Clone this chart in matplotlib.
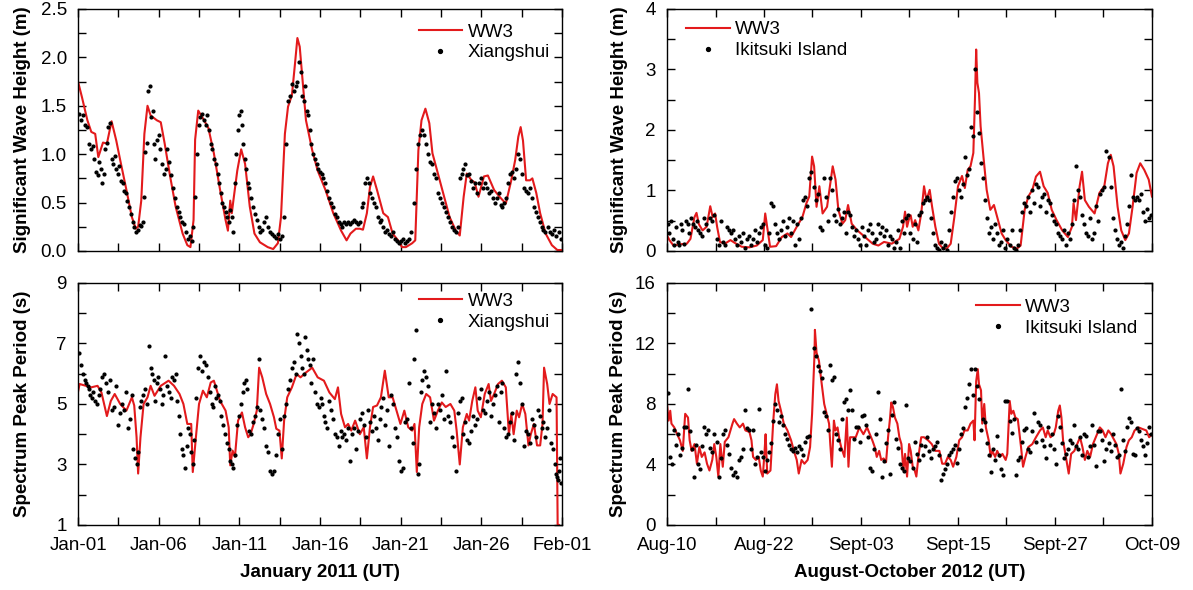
import matplotlib.pyplot as plt
from matplotlib.ticker import MultipleLocator, FormatStrFormatter

plt.rcParams['font.family'] = ['Liberation Sans', 'DejaVu Sans']

jan_labels = ['Jan-01', 'Jan-06', 'Jan-11', 'Jan-16', 'Jan-21', 'Jan-26', 'Feb-01']
aug_labels = ['Aug-10', 'Aug-22', 'Sept-03', 'Sept-15', 'Sept-27', 'Oct-09']

# WW3 model output, (day since start, value)
hs_jan_ww3 = [
    (0, 1.75), (0.25, 1.59), (0.6, 1.35), (0.85, 1.23), (1.1, 1.21), (1.3, 0.97), (1.6, 1.12),
    (1.85, 1.11), (2.15, 1.34), (2.45, 1.14), (2.7, 0.94), (3.1, 0.63), (3.45, 0.35), (3.7, 0.23),
    (3.85, 0.25), (4.05, 0.52), (4.25, 1.21), (4.45, 1.50), (4.65, 1.40), (5.05, 1.35), (5.3, 1.33),
    (5.55, 1.11), (5.9, 0.77), (6.25, 0.46), (6.7, 0.18), (7.0, 0.06), (7.2, 0.04), (7.4, 0.32),
    (7.5, 1.15), (7.7, 1.45), (8.0, 1.37), (8.35, 1.27), (8.7, 1.01), (9.1, 0.63), (9.45, 0.32),
    (9.6, 0.21), (9.75, 0.52), (9.85, 0.39), (9.95, 0.52), (10.2, 0.83), (10.45, 1.05), (10.7, 0.90),
    (11.0, 0.46), (11.3, 0.18), (11.65, 0.09), (12.15, 0.04), (12.5, 0.02), (12.8, 0.08), (13.0, 0.35),
    (13.25, 1.21), (13.45, 1.49), (13.7, 1.61), (13.9, 1.94), (14.05, 2.20), (14.2, 2.11), (14.4, 1.73),
    (14.6, 1.35), (15.0, 1.04), (15.35, 0.83), (15.85, 0.63), (16.35, 0.39), (16.85, 0.21), (17.2, 0.11),
    (17.45, 0.18), (17.8, 0.23), (18.05, 0.23), (18.25, 0.22), (18.5, 0.39), (18.7, 0.66), (18.9, 0.77),
    (19.15, 0.63), (19.55, 0.39), (19.85, 0.35), (20.15, 0.18), (20.5, 0.11), (20.75, 0.04), (21.0, 0.04),
    (21.4, 0.08), (21.6, 0.11), (21.8, 1.04), (22.0, 1.35), (22.25, 1.47), (22.5, 1.32), (22.7, 1.01),
    (23.1, 0.77), (23.45, 0.56), (23.8, 0.35), (24.2, 0.21), (24.45, 0.16), (24.7, 0.56), (24.9, 0.80),
    (25.2, 0.73), (25.4, 0.71), (25.65, 0.56), (26.0, 0.77), (26.25, 0.78), (26.65, 0.63), (27.0, 0.56),
    (27.4, 0.49), (27.75, 0.73), (28.0, 0.94), (28.2, 1.18), (28.35, 1.28), (28.5, 1.14), (28.7, 0.73),
    (28.95, 0.73), (29.1, 0.75), (29.35, 0.60), (29.6, 0.39), (29.95, 0.18), (30.35, 0.06), (30.7, 0.01),
    (31.0, 0.01),
]

tp_jan_ww3 = [
    (0, 5.4), (0.1, 5.66), (0.5, 5.6), (0.85, 5.55), (1.25, 5.6), (1.5, 5.38), (1.85, 4.6), (2.1, 5.1),
    (2.35, 5.33), (2.7, 5.0), (3.1, 4.78), (3.45, 5.22), (3.6, 4.95), (3.75, 3.9), (3.85, 2.7), (4.0, 3.9),
    (4.2, 5.0), (4.45, 5.22), (4.65, 5.6), (4.9, 5.27), (5.3, 5.6), (5.8, 5.77), (6.15, 5.6), (6.5, 5.33),
    (6.75, 5.0), (7.0, 4.34), (7.25, 4.34), (7.35, 2.75), (7.55, 3.9), (7.75, 5.0), (8.0, 5.44),
    (8.25, 5.22), (8.5, 5.71), (8.7, 5.77), (9.1, 5.1), (9.45, 4.78), (9.65, 4.23), (9.75, 2.97),
    (9.9, 3.46), (10.05, 3.25), (10.25, 4.45), (10.5, 4.72), (10.7, 4.23), (10.9, 3.9), (11.05, 4.0),
    (11.25, 4.34), (11.45, 4.78), (11.6, 6.2), (11.8, 5.88), (12.05, 5.33), (12.3, 5.0), (12.55, 4.56),
    (12.7, 4.18), (12.9, 4.12), (13.05, 3.2), (13.2, 4.45), (13.4, 5.22), (13.7, 5.55), (14.0, 5.99),
    (14.25, 5.88), (14.6, 6.04), (15.0, 6.2), (15.35, 5.88), (15.75, 5.77), (16.1, 5.38), (16.45, 5.16),
    (16.65, 5.55), (16.85, 4.67), (17.1, 4.23), (17.3, 4.34), (17.5, 4.12), (17.75, 4.45), (18.05, 4.0),
    (18.3, 4.23), (18.5, 3.2), (18.7, 4.23), (18.9, 4.9), (19.15, 4.95), (19.4, 5.22), (19.65, 6.1),
    (19.9, 5.22), (20.15, 5.22), (20.4, 4.78), (20.65, 4.34), (20.9, 4.78), (21.15, 4.23), (21.4, 4.12),
    (21.55, 4.34), (21.7, 2.75), (21.85, 4.23), (22.05, 5.0), (22.3, 5.33), (22.55, 5.22), (22.8, 4.45),
    (23.05, 4.78), (23.3, 5.05), (23.55, 4.9), (23.85, 5.0), (24.1, 4.78), (24.25, 4.12), (24.45, 3.0),
    (24.65, 4.23), (24.9, 4.67), (25.05, 4.45), (25.25, 5.1), (25.45, 5.55), (25.6, 4.78), (25.8, 4.56),
    (26.05, 5.33), (26.3, 5.66), (26.45, 5.1), (26.65, 5.33), (26.9, 5.66), (27.15, 5.77), (27.4, 5.55),
    (27.6, 4.0), (27.75, 4.67), (27.9, 4.0), (28.1, 4.78), (28.25, 4.56), (28.45, 5.0), (28.65, 4.67),
    (28.85, 3.63), (29.0, 4.0), (29.2, 4.34), (29.4, 3.63), (29.6, 3.63), (29.75, 4.34), (29.85, 6.2),
    (30.05, 5.66), (30.2, 5.0), (30.4, 5.33), (30.65, 5.22), (30.72, 1.0), (30.8, 1.0),
]

hs_aug_ww3 = [
    (0, 0.26), (0.3, 0.18), (0.8, 0.09), (1.5, 0.11), (2.45, 0.12), (2.9, 0.2), (3.4, 0.56), (3.65, 0.63),
    (3.95, 0.44), (4.4, 0.34), (4.9, 0.4), (5.35, 0.74), (5.65, 0.56), (5.95, 0.62), (6.2, 0.4),
    (6.55, 0.15), (7.15, 0.12), (7.85, 0.18), (8.55, 0.12), (9.25, 0.07), (10.2, 0.06), (11.1, 0.09),
    (11.85, 0.18), (12.15, 0.62), (12.45, 0.34), (12.75, 0.07), (13.5, 0.08), (14.2, 0.23), (14.9, 0.29),
    (15.35, 0.23), (16.05, 0.4), (16.75, 0.56), (17.25, 0.79), (17.6, 0.9), (17.95, 1.56), (18.2, 1.4),
    (18.5, 0.73), (18.85, 1.07), (19.25, 0.62), (19.8, 0.73), (20.15, 1.07), (20.5, 1.4), (20.85, 1.18),
    (21.2, 0.68), (21.7, 0.45), (22.05, 0.51), (22.4, 0.76), (22.85, 0.45), (23.55, 0.34), (24.5, 0.23),
    (25.45, 0.12), (26.15, 0.09), (26.85, 0.15), (27.8, 0.12), (28.75, 0.2), (29.2, 0.4), (29.45, 0.65),
    (29.7, 0.4), (29.9, 0.51), (30.15, 0.59), (30.4, 0.4), (30.7, 0.51), (31.1, 0.34), (31.45, 0.62),
    (31.8, 1.07), (32.1, 0.84), (32.5, 1.01), (32.8, 0.73), (33.2, 0.4), (33.65, 0.12), (34.15, 0.04),
    (34.6, 0.04), (35.1, 0.12), (35.55, 0.56), (36.0, 1.07), (36.5, 1.24), (36.85, 1.04), (37.2, 1.34),
    (37.55, 1.4), (37.9, 1.62), (38.1, 2.5), (38.25, 3.33), (38.4, 2.78), (38.6, 2.61), (38.8, 2.06),
    (39.15, 1.56), (39.55, 1.01), (40.0, 0.68), (40.45, 0.76), (40.95, 0.51), (41.4, 0.29), (41.9, 0.18),
    (42.6, 0.07), (43.3, 0.04), (43.75, 0.09), (44.25, 0.68), (44.7, 0.9), (45.2, 1.01), (45.65, 1.23),
    (46.15, 1.31), (46.6, 1.07), (47.1, 0.96), (47.6, 0.68), (48.2, 0.51), (48.9, 0.34), (49.6, 0.23),
    (50.1, 0.4), (50.3, 0.79), (50.6, 0.51), (51.05, 1.07), (51.35, 1.31), (51.7, 0.84), (52.2, 0.73),
    (52.9, 0.62), (53.5, 0.96), (54.1, 1.07), (54.55, 1.45), (54.9, 1.59), (55.25, 1.4), (55.75, 0.73),
    (56.2, 0.34), (56.7, 0.18), (57.15, 0.29), (57.6, 0.73), (58.1, 1.29), (58.55, 1.45), (59.05, 1.34),
    (59.6, 1.18), (60.0, 0.9),
]

tp_aug_ww3 = [
    (0, 8.0), (0.2, 6.9), (0.4, 7.55), (0.55, 6.7), (0.9, 6.45), (1.25, 6.0), (1.6, 5.6), (1.95, 4.9),
    (2.25, 7.35), (2.6, 7.1), (2.8, 5.6), (3.05, 4.9), (3.4, 5.35), (3.7, 4.05), (4.0, 5.15), (4.3, 4.5),
    (4.65, 4.8), (4.95, 4.05), (5.25, 3.6), (5.6, 4.3), (5.85, 5.35), (6.1, 4.5), (6.35, 3.2), (6.6, 5.35),
    (6.9, 3.85), (7.15, 5.5), (7.6, 5.8), (8.1, 6.7), (8.3, 7.0), (8.65, 6.7), (9.0, 6.45), (9.4, 6.7),
    (9.7, 6.25), (10.2, 6.15), (10.45, 5.6), (10.65, 4.5), (11.0, 4.3), (11.35, 4.5), (11.6, 3.6),
    (11.85, 3.2), (12.05, 4.7), (12.2, 6.0), (12.4, 3.4), (12.8, 3.6), (13.15, 6.9), (13.4, 8.65),
    (13.6, 9.3), (13.8, 8.2), (14.1, 7.55), (14.45, 6.7), (14.9, 6.25), (15.35, 5.6), (15.7, 4.9),
    (16.05, 4.3), (16.3, 3.4), (16.65, 4.3), (17.0, 4.05), (17.4, 4.3), (17.7, 5.15), (17.95, 7.35),
    (18.1, 9.3), (18.25, 11.3), (18.3, 12.9), (18.5, 11.4), (18.8, 10.85), (19.1, 9.5), (19.45, 8.0),
    (19.75, 7.35), (20.05, 6.7), (20.2, 5.35), (20.4, 3.85), (20.65, 6.9), (20.85, 6.25), (21.1, 6.45),
    (21.35, 5.6), (21.55, 5.15), (21.95, 4.5), (22.25, 7.1), (22.45, 3.85), (22.65, 5.8), (22.95, 5.8),
    (23.35, 5.8), (23.8, 6.45), (24.3, 6.0), (24.75, 6.45), (25.1, 6.0), (25.4, 5.6), (25.7, 5.15),
    (25.95, 4.5), (26.25, 4.9), (26.5, 4.3), (26.8, 4.4), (27.1, 4.15), (27.35, 5.8), (27.6, 7.1),
    (27.75, 8.1), (27.95, 7.8), (28.2, 7.1), (28.5, 6.7), (28.75, 5.8), (29.0, 5.35), (29.25, 3.6),
    (29.45, 4.7), (29.7, 3.2), (29.95, 5.35), (30.15, 4.9), (30.4, 3.85), (30.65, 3.6), (30.85, 3.2),
    (31.1, 4.5), (31.45, 5.8), (31.8, 5.8), (32.3, 5.6), (32.75, 5.35), (33.2, 4.9), (33.7, 4.9),
    (34.05, 4.05), (34.4, 4.05), (34.75, 4.5), (35.1, 4.3), (35.4, 3.85), (35.8, 4.5), (36.15, 5.6),
    (36.5, 5.8), (36.8, 6.25), (37.2, 6.25), (37.55, 6.7), (37.9, 6.9), (38.05, 5.6), (38.25, 9.5),
    (38.45, 10.3), (38.6, 9.3), (38.85, 8.9), (39.0, 6.7), (39.25, 8.0), (39.45, 6.45), (39.8, 5.6),
    (40.05, 4.5), (40.25, 4.9), (40.6, 4.5), (40.85, 4.9), (41.2, 4.5), (41.5, 4.7), (41.9, 4.3),
    (42.1, 4.7), (42.4, 8.2), (42.6, 7.35), (42.85, 7.55), (43.1, 7.1), (43.4, 7.0), (43.8, 5.15),
    (44.05, 3.85), (44.35, 4.5), (44.7, 5.15), (45.2, 5.35), (45.65, 5.8), (46.15, 6.25), (46.5, 6.45),
    (46.85, 5.8), (47.1, 6.25), (47.45, 5.8), (47.85, 6.0), (48.1, 6.45), (48.4, 7.55), (48.6, 7.9),
    (48.8, 7.1), (49.0, 5.6), (49.35, 4.5), (49.7, 3.4), (50.0, 4.7), (50.4, 4.9), (50.75, 5.35),
    (51.1, 5.8), (51.4, 5.15), (51.7, 4.3), (52.0, 4.9), (52.35, 4.5), (52.7, 5.35), (53.2, 6.0),
    (53.55, 6.45), (53.9, 6.25), (54.25, 5.8), (54.6, 6.25), (54.95, 6.0), (55.35, 5.6), (55.6, 5.35),
    (55.9, 4.7), (56.1, 3.4), (56.45, 4.05), (56.85, 5.15), (57.15, 5.6), (57.5, 5.8), (57.85, 6.25),
    (58.35, 6.45), (58.8, 6.35), (59.3, 6.25), (59.65, 5.8), (60.0, 6.0),
]

# buoy observations, one list per day (Jan Hs) / per half day (Jan Tp) / per two days (Aug-Oct)
hs_jan_obs = [
    [1.42, 1.35, 1.40, 1.30, 1.28, 1.10, 1.05, 1.08],
    [0.95, 0.82, 0.78, 0.92, 0.85, 0.70, 0.80, 1.05, 1.12, 1.28],
    [1.32, 0.95, 0.90, 0.98, 0.85, 0.80, 0.88, 0.72, 0.70, 0.62],
    [0.60, 0.52, 0.45, 0.38, 0.30, 0.25, 0.20, 0.22, 0.27],
    [0.26, 0.30, 0.56, 1.02, 1.12, 1.65, 1.70, 1.38, 1.45, 1.10, 0.95],
    [1.15, 1.20, 1.05, 0.90, 0.80, 0.85, 1.05, 0.92, 0.78],
    [0.65, 0.55, 0.45, 0.40, 0.35, 0.30, 0.28, 0.20],
    [0.12, 0.15, 0.10, 0.25, 0.56, 1.00, 1.30, 1.38, 1.42],
    [1.35, 1.30, 1.40, 1.25, 1.10, 1.05, 0.95, 0.90, 0.80],
    [0.70, 0.60, 0.50, 0.45, 0.40, 0.35, 0.30, 0.42, 0.35, 0.20],
    [0.70, 1.00, 1.25, 1.40, 1.45, 1.30, 1.10, 0.95, 0.85, 0.70, 0.65],
    [0.55, 0.45, 0.38, 0.32, 0.25, 0.20, 0.22, 0.30],
    [0.35, 0.25, 0.20, 0.18, 0.15, 0.13, 0.18, 0.12],
    [0.15, 0.35, 1.10, 1.55, 1.60, 1.72, 1.65, 1.70],
    [1.75, 1.95, 1.85, 1.60, 1.55, 1.70, 1.45, 1.40, 1.25, 1.10],
    [1.00, 0.95, 0.90, 0.85, 0.82, 0.80, 0.75, 0.70, 0.62],
    [0.55, 0.50, 0.45, 0.38, 0.35, 0.30, 0.28, 0.25],
    [0.30, 0.28, 0.30, 0.28, 0.30, 0.32, 0.30, 0.28],
    [0.30, 0.45, 0.50, 0.70, 0.75, 0.70, 0.60, 0.55, 0.50],
    [0.45, 0.35, 0.30, 0.32, 0.25, 0.20, 0.22, 0.18],
    [0.15, 0.20, 0.12, 0.10, 0.08, 0.10, 0.12, 0.08],
    [0.10, 0.12, 0.20, 0.50, 0.85, 1.10, 1.20],
    [1.25, 1.20, 1.10, 1.00, 0.92, 0.90, 0.80, 0.75],
    [0.60, 0.55, 0.50, 0.45, 0.40, 0.35, 0.30, 0.25],
    [0.22, 0.20, 0.25, 0.75, 0.80, 0.85, 0.90, 0.78],
    [0.80, 0.72, 0.65, 0.70, 0.60, 0.70, 0.75, 0.65],
    [0.70, 0.65, 0.60, 0.62, 0.55, 0.50, 0.55, 0.60],
    [0.48, 0.45, 0.50, 0.55, 0.70, 0.80, 0.82, 0.75],
    [0.85, 1.00, 0.95, 0.80, 0.65, 0.62, 0.60, 0.65],
    [0.55, 0.45, 0.40, 0.35, 0.30, 0.25, 0.22, 0.20],
    [0.25, 0.20, 0.18, 0.22, 0.15, 0.20, 0.12],
]

tp_jan_obs = [
    [6.7, 6.3, 6.0, 5.8], [5.7, 5.6, 5.5, 5.3, 5.2, 5.4], [5.1, 5.0, 5.3, 5.5], [5.9, 6.0, 5.7, 5.4],
    [5.8, 4.8, 4.9, 5.6], [4.3, 4.7, 5.0, 4.8], [5.4, 4.2, 4.5, 5.3], [3.5, 3.2, 3.0, 3.4, 4.9],
    [5.1, 5.3, 5.5, 5.0], [6.9, 6.2, 6.0, 5.8, 5.1], [5.7, 5.9, 5.5, 5.0, 5.3], [6.6, 5.6, 5.4, 5.2],
    [5.9, 5.8, 6.0, 5.1, 4.6], [4.0, 3.5, 3.3, 2.9, 3.6], [4.2, 4.0, 3.4, 3.0, 3.8], [5.2, 6.2, 6.6, 6.1],
    [6.4, 6.3, 5.9, 5.4], [5.0, 4.9, 5.6, 5.2, 5.3], [5.1, 4.6, 4.3, 4.0], [3.7, 3.5, 3.1, 3.0, 2.9],
    [3.3, 4.3, 4.6, 5.0], [5.4, 5.7, 5.8, 5.5, 4.1], [4.0, 4.4, 4.6, 4.9], [6.5, 4.8, 4.5, 4.2],
    [3.6, 3.4, 2.8, 2.7], [2.8, 3.3, 4.0, 4.5], [3.5, 4.6, 5.0, 5.5], [5.8, 6.2, 6.4, 6.0],
    [7.3, 7.0, 6.6, 6.2, 6.0], [7.2, 6.8, 6.5, 6.3, 5.7], [6.5, 5.4, 5.0, 4.9], [5.2, 5.0, 4.6, 4.4, 4.2],
    [5.1, 4.8, 4.5, 4.0], [3.9, 3.6, 4.1, 3.9], [4.0, 3.8, 4.2, 3.1], [4.0, 4.2, 3.5, 4.1],
    [4.5, 4.7, 4.3, 3.9], [4.8, 4.4, 4.1, 4.6], [4.2, 3.8, 4.5, 4.9], [5.2, 4.3, 4.8, 3.6],
    [5.3, 5.0, 4.2, 3.9], [3.1, 2.8, 2.9, 4.4], [4.5, 5.7, 4.2, 3.7], [6.5, 7.45, 2.7, 3.0, 5.4],
    [5.8, 6.1, 5.9, 5.6], [4.4, 5.0, 4.7, 4.2], [5.0, 4.8, 5.3, 4.5], [6.1, 4.6, 4.4, 3.9],
    [3.6, 2.8, 4.7, 5.1], [5.2, 4.0, 4.4, 3.8], [3.7, 4.1, 4.6, 4.3], [4.5, 5.2, 5.5, 4.8],
    [4.7, 5.1, 5.4, 4.6], [5.0, 5.3, 5.6, 4.4], [5.4, 5.7, 4.2, 3.9], [4.0, 4.4, 4.7, 3.8],
    [6.0, 6.4, 5.7, 5.0], [3.6, 4.1, 4.0, 3.7], [4.5, 4.3, 3.9, 4.8], [4.6, 4.2, 4.4, 3.9],
    [4.2, 4.8, 3.7, 3.5], [3.0, 2.7, 2.6, 2.5, 2.8, 3.2, 2.4],
]

hs_aug_obs = [
    [0.45, 0.3, 0.5, 0.2, 0.1, 0.4, 0.15, 0.1, 0.45, 0.35],
    [0.12, 0.5, 0.45, 0.3, 0.55, 0.45, 0.4, 0.5, 0.35],
    [0.3, 0.25, 0.55, 0.45, 0.35, 0.55, 0.5, 0.6],
    [0.2, 0.1, 0.5, 0.15, 0.1, 0.4, 0.35, 0.3],
    [0.35, 0.2, 0.1, 0.25, 0.15, 0.3, 0.05, 0.2],
    [0.25, 0.1, 0.2, 0.35, 0.15, 0.3, 0.4, 0.45],
    [0.1, 0.05, 0.3, 0.8, 0.75, 0.45, 0.3, 0.2],
    [0.35, 0.5, 0.25, 0.4, 0.55, 0.3, 0.5, 0.1],
    [0.45, 0.2, 0.55, 0.85, 0.9, 0.75, 1.2, 1.3],
    [1.05, 0.85, 0.95, 0.4, 0.35, 1.2, 0.9, 0.5],
    [1.2, 1.0, 0.6, 0.5, 0.7, 0.45, 0.55, 0.65],
    [0.3, 0.65, 0.6, 0.4, 0.25, 0.35, 0.2, 0.1],
    [0.4, 0.25, 0.1, 0.35, 0.45, 0.3, 0.15, 0.2],
    [0.45, 0.3, 0.4, 0.25, 0.35, 0.1, 0.25, 0.2],
    [0.05, 0.15, 0.35, 0.05, 0.5, 0.3, 0.55, 0.6],
    [0.3, 0.2, 0.45, 0.15, 0.6, 0.65, 0.8, 0.85],
    [0.9, 0.85, 0.55, 0.3, 0.1, 0.05, 0.02, 0.15],
    [0.05, 0.1, 0.02, 0.35, 0.65, 0.9, 1.15, 1.2],
    [1.0, 0.9, 1.1, 1.55, 1.25, 1.35, 2.05, 1.9],
    [3.0, 2.3, 1.95, 1.45, 1.2, 0.85, 0.55, 0.3],
    [0.4, 0.2, 0.45, 0.3, 0.1, 0.15, 0.35, 0.05],
    [0.2, 0.1, 0.35, 0.05, 0.02, 0.1, 0.35, 0.65],
    [0.8, 0.75, 0.9, 0.65, 1.0, 0.8, 1.1, 1.05],
    [0.75, 0.9, 0.95, 0.65, 0.85, 0.8, 0.6, 0.5],
    [0.45, 0.3, 0.25, 0.2, 0.35, 0.1, 0.3, 0.2],
    [0.45, 0.85, 1.4, 1.0, 0.9, 0.6, 0.45, 0.3],
    [0.25, 0.55, 0.2, 0.3, 0.75, 0.5, 0.95, 1.0],
    [1.05, 1.65, 1.55, 1.05, 0.55, 0.35, 0.2, 0.1],
    [0.15, 0.05, 0.25, 0.45, 0.75, 1.25, 0.9, 0.85],
    [0.9, 0.85, 0.95, 0.65, 0.5, 0.7, 0.55, 0.6],
]

tp_aug_obs = [
    [8.7, 4.5, 4.0, 6.3, 5.3, 6.0, 4.6, 5.1], [6.5, 6.5, 9.0, 6.2, 5.0, 3.2, 5.3, 4.0],
    [3.7, 5.2, 6.5, 6.0, 6.3, 5.1, 4.8, 6.0], [5.5, 3.2, 4.4, 6.0, 6.3, 5.3, 4.7, 3.8],
    [3.3, 3.5, 3.2, 4.3, 4.5, 5.0, 7.6, 6.4], [6.3, 5.0, 6.3, 4.0, 4.5, 7.7, 4.8, 4.5],
    [3.6, 4.3, 4.8, 5.4, 6.9, 8.0, 7.6, 6.8], [7.2, 6.6, 6.0, 5.7, 5.3, 5.0, 4.9, 5.1],
    [4.8, 5.2, 5.0, 4.6, 5.5, 5.8, 5.9, 14.3], [11.7, 11.2, 10.5, 10.2, 9.7, 7.5, 7.2, 6.3],
    [10.6, 9.6, 9.8, 6.0, 5.6, 5.0, 7.0, 8.1], [8.3, 7.6, 8.9, 7.6, 5.7, 6.5, 6.5, 5.5],
    [7.2, 7.3, 6.6, 5.8, 3.8, 3.6, 5.0, 6.0], [8.8, 7.0, 3.2, 4.2, 5.4, 6.3, 3.4, 7.3],
    [8.1, 5.7, 5.1, 4.0, 3.8, 3.6, 7.9, 4.4], [4.2, 3.8, 5.5, 4.7, 4.3, 5.3, 4.6, 5.2],
    [5.8, 4.9, 4.4, 5.0, 5.2, 5.5, 4.6, 3.0], [3.4, 3.7, 4.0, 4.6, 4.8, 5.0, 5.3, 4.1],
    [5.0, 6.0, 6.4, 7.8, 8.4, 9.3, 10.3, 8.6], [10.3, 9.2, 8.3, 6.3, 7.0, 6.8, 5.4, 4.6],
    [3.5, 5.0, 4.3, 5.9, 4.6, 3.7, 3.3, 8.2], [8.2, 6.9, 6.1, 7.0, 3.3, 4.3, 4.5, 5.5],
    [6.3, 6.4, 5.0, 4.8, 6.2, 7.4, 5.5, 6.8], [6.6, 5.6, 5.2, 4.4, 6.5, 5.3, 6.0, 5.0],
    [4.0, 7.2, 6.5, 5.4, 4.4, 4.7, 5.0, 5.6], [5.4, 6.6, 5.2, 5.0, 5.8, 4.6, 6.0, 5.9],
    [4.5, 5.2, 6.6, 5.3, 3.9, 6.2, 6.2, 5.6], [4.2, 5.0, 5.4, 4.9, 6.0, 5.3, 4.5, 4.6],
    [9.0, 5.6, 4.9, 6.5, 7.1, 6.8, 4.7, 4.6], [6.4, 6.2, 5.6, 5.2, 4.6, 5.4, 6.5, 6.0],
]


def spread(chunks, width):
    t, v = [], []
    for k, vals in enumerate(chunks):
        for i, val in enumerate(vals):
            t.append(k * width + (i + 0.5) * width / len(vals))
            v.append(val)
    return t, v


def panel(ax, ww3, obs, station, span, ylim, ystep, yfmt, xlabels, leg_loc, leg_xy):
    t, v = zip(*ww3)
    ax.plot(t, v, color='#e31a1c', lw=1.5, label='WW3', zorder=2)
    ot, ov = obs
    ax.plot(ot, ov, ls='none', marker='o', ms=2.0, color='black', label=station, zorder=3)
    ax.set_xlim(0, span)
    ax.set_ylim(*ylim)
    n = len(xlabels) - 1
    major = [span * i / n for i in range(n + 1)]
    minor = [span * (i + 0.5) / n for i in range(n)]
    ax.set_xticks(major)
    ax.set_xticks(minor, minor=True)
    ax.set_xticklabels(xlabels)
    ax.yaxis.set_major_locator(MultipleLocator(ystep))
    ax.yaxis.set_minor_locator(MultipleLocator(ystep / 2))
    ax.yaxis.set_major_formatter(FormatStrFormatter(yfmt))
    ax.tick_params(which='both', direction='in', length=6, width=1,
                   top=True, right=True, labelsize=13.5)
    ax.tick_params(axis='x', pad=9)
    ax.tick_params(axis='y', pad=8)
    for s in ax.spines.values():
        s.set_linewidth(1.0)
    ax.legend(loc=leg_loc, bbox_to_anchor=leg_xy, frameon=False, fontsize=13.5,
              handlelength=2.3, handletextpad=0.3, labelspacing=0.2,
              borderaxespad=0, borderpad=0, numpoints=1, markerscale=1.4)


fig = plt.figure(figsize=(11.93, 5.90), dpi=100)
ax1 = fig.add_axes([0.0654, 0.5746, 0.4057, 0.4102])
ax2 = fig.add_axes([0.5591, 0.5746, 0.4065, 0.4102])
ax3 = fig.add_axes([0.0654, 0.1102, 0.4057, 0.4102])
ax4 = fig.add_axes([0.5591, 0.1102, 0.4065, 0.4102])

panel(ax1, hs_jan_ww3, spread(hs_jan_obs, 1.0), 'Xiangshui', 31, (0, 2.5), 0.5, '%.1f',
      jan_labels, 'upper right', (0.975, 0.94))
panel(ax2, hs_aug_ww3, spread(hs_aug_obs, 2.0), 'Ikitsuki Island', 60, (0, 4), 1, '%d',
      aug_labels, 'upper left', (0.04, 0.95))
panel(ax3, tp_jan_ww3, spread(tp_jan_obs, 0.5), 'Xiangshui', 31, (1, 9), 2, '%d',
      jan_labels, 'upper right', (0.975, 0.96))
panel(ax4, tp_aug_ww3, spread(tp_aug_obs, 2.0), 'Ikitsuki Island', 60, (0, 16), 4, '%d',
      aug_labels, 'upper right', (0.97, 0.935))

ax3.set_yticks([1, 3, 5, 7, 9])
ax3.set_yticks([2, 4, 6, 8], minor=True)

for ax in (ax1, ax2):
    ax.tick_params(labelbottom=False)

lab = dict(fontsize=13.5, fontweight='bold')
ax1.set_ylabel('Significant Wave Height (m)', **lab)
ax2.set_ylabel('Significant Wave Height (m)', **lab)
ax3.set_ylabel('Spectrum Peak Period (s)', **lab)
ax4.set_ylabel('Spectrum Peak Period (s)', **lab)
ax3.set_xlabel('January 2011 (UT)', **lab)
ax4.set_xlabel('August-October 2012 (UT)', **lab)
ax1.yaxis.set_label_coords(-0.098, 0.5)
ax3.yaxis.set_label_coords(-0.098, 0.5)
ax2.yaxis.set_label_coords(-0.080, 0.5)
ax4.yaxis.set_label_coords(-0.082, 0.5)
ax3.xaxis.set_label_coords(0.5, -0.16)
ax4.xaxis.set_label_coords(0.5, -0.16)

fig.savefig('out.png', dpi=100)
